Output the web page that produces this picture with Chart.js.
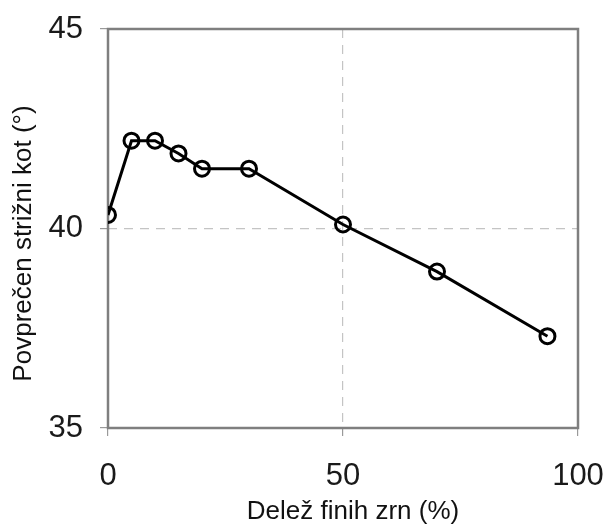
<!DOCTYPE html>
<html>
<head>
<meta charset="utf-8">
<script src="https://cdn.jsdelivr.net/npm/chart.js@4/dist/chart.umd.min.js"></script>
<style>
  html, body { margin: 0; padding: 0; background: #fff; }
  #wrap { width: 607px; height: 525px; }
</style>
</head>
<body>
<div id="wrap"><canvas id="shear-chart"></canvas></div>
<script>
// data
var fines = [0, 5, 10, 15, 20, 30, 50, 70, 93.5];          // Delež finih zrn (%)
var angle = [40.34, 42.2, 42.2, 41.88, 41.5, 41.5, 40.1, 38.92, 37.3]; // povprečen strižni kot (°)
var xTicks = [0, 50, 100];
var yTicks = [35, 40, 45];

var xLabel = "Delež finih zrn (%)";
var yLabel = "Povprečen strižni kot (°)";

var titleFont = '26px "Liberation Sans", Arial, sans-serif';

// frame round the plot area
var framePlugin = {
  id: 'frame',
  beforeDatasetsDraw: function(chart) {
    var a = chart.chartArea, c = chart.ctx;
    c.save();
    c.strokeStyle = '#7f7f7f';
    c.lineWidth = 2.5;
    c.strokeRect(a.left, a.top, a.right - a.left, a.bottom - a.top);
    c.restore();
  }
};

// axis titles, a bit off centre like in the original figure
var axisTitles = {
  id: 'axisTitles',
  afterDraw: function(chart) {
    var a = chart.chartArea, c = chart.ctx;
    c.save();
    c.font = titleFont;
    c.fillStyle = '#111';
    c.textAlign = 'center';
    c.textBaseline = 'middle';
    c.fillText(xLabel, (a.left + a.right) / 2 + 10, a.bottom + 84);
    c.translate(24, (a.top + a.bottom) / 2 + 15);
    c.rotate(-Math.PI / 2);
    c.fillText(yLabel, 0, 0);
    c.restore();
  }
};

var points = fines.map(function(x, i) { return { x: x, y: angle[i] }; });

new Chart(document.getElementById('shear-chart'), {
  type: 'line',
  data: {
    datasets: [{
      label: yLabel,
      data: points,
      borderColor: '#000',
      borderWidth: 3,
      backgroundColor: 'transparent',
      pointRadius: 7.5,
      pointBorderWidth: 3,
      pointBorderColor: '#000',
      pointBackgroundColor: 'transparent',
      tension: 0
    }]
  },
  options: {
    responsive: true,
    maintainAspectRatio: false,
    animation: false,
    layout: { padding: { top: 29, right: 29, left: 0, bottom: 0 } },
    plugins: { legend: { display: false }, tooltip: { enabled: false } },
    scales: {
      x: {
        type: 'linear',
        min: 0, max: 100,
        afterBuildTicks: function(s) { s.ticks = xTicks.map(function(v) { return { value: v }; }); },
        afterFit: function(s) { s.height = 97; s.paddingLeft = 0; s.paddingRight = 0; },
        border: { display: false, dash: [9, 7] },
        grid: {
          color: function(ctx) { return ctx.tick && ctx.tick.value === 50 ? '#c4c4c4' : 'transparent'; },
          lineWidth: 1.2,
          tickColor: '#9a9a9a',
          tickLength: 8
        },
        ticks: { color: '#1a1a1a', padding: 22, font: { family: 'Liberation Sans, Arial', size: 31 } },
        title: { display: false, text: xLabel }
      },
      y: {
        type: 'linear',
        min: 35, max: 45,
        afterBuildTicks: function(s) { s.ticks = yTicks.map(function(v) { return { value: v }; }); },
        afterFit: function(s) { s.width = 108; s.paddingTop = 0; s.paddingBottom = 0; },
        border: { display: false, dash: [9, 7] },
        grid: {
          color: function(ctx) { return ctx.tick && ctx.tick.value === 40 ? '#c4c4c4' : 'transparent'; },
          lineWidth: 1.2,
          tickColor: '#9a9a9a',
          tickLength: 8
        },
        ticks: { color: '#1a1a1a', padding: 17, font: { family: 'Liberation Sans, Arial', size: 31 } },
        title: { display: false, text: yLabel }
      }
    }
  },
  plugins: [framePlugin, axisTitles]
});
</script>
</body>
</html>
